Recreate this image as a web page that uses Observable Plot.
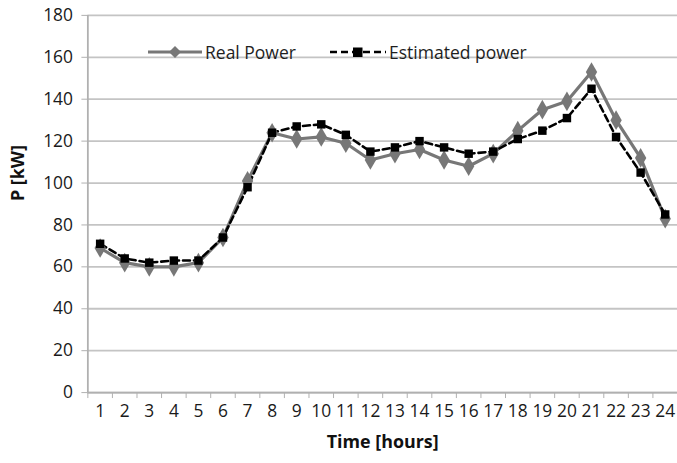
<!DOCTYPE html>
<html><head><meta charset="utf-8">
<script src="https://cdn.jsdelivr.net/npm/d3@7"></script>
<script src="https://cdn.jsdelivr.net/npm/@observablehq/plot@0.6"></script>
<style>
html,body{margin:0;padding:0;background:#fff;overflow:hidden;}
#wrap{position:relative;width:677px;height:463px;overflow:hidden;}
#wrap svg{display:block;}
.leg{position:absolute;top:40px;height:24px;display:flex;align-items:center;font-family:"Open Sans",sans-serif;font-size:17.5px;color:#1e1e1e;white-space:nowrap;}
.leg svg{margin-right:3px;}
</style></head><body><div id="wrap"></div>
<script>
const hours = [1,2,3,4,5,6,7,8,9,10,11,12,13,14,15,16,17,18,19,20,21,22,23,24];
const realPower = [69,62,60,60,62,74,101,124,121,122,119,111,114,116,111,108,114,125,135,139,153,130,112,83];
const estimatedPower = [71,64,62,63,63,74,98,124,127,128,123,115,117,120,117,114,115,121,125,131,145,122,105,85];
const yTicks = [0,20,40,60,80,100,120,140,160,180];
const xBoundaries = [0.5,1.5,2.5,3.5,4.5,5.5,6.5,7.5,8.5,9.5,10.5,11.5,12.5,13.5,14.5,15.5,16.5,17.5,18.5,19.5,20.5,21.5,22.5,23.5];
const seriesNames = ["Real Power","Estimated power"];
const yTitle = "P [kW]";
const xTitle = "Time [hours]";

const real = hours.map((h,i)=>({hour:h, value:realPower[i]}));
const est = hours.map((h,i)=>({hour:h, value:estimatedPower[i]}));

const font = "Open Sans";
const chart = Plot.plot({
  width: 682, height: 463,
  marginLeft: 88, marginRight: 0, marginTop: 15, marginBottom: 68,
  style: {fontFamily: font, fontSize: "17px", color: "#1a1a1a", background: "#fff", overflow: "visible"},
  x: {domain: [0.5, 24.5], axis: null},
  y: {domain: [0, 180], axis: null},
  marks: [
    Plot.gridY(yTicks, {stroke: "#c4c4c4", strokeOpacity: 1, strokeWidth: 1.8}),
    Plot.axisY({ticks: yTicks, tickSize: 6, tickPadding: 9, stroke: "#b0b0b0", fontSize: 17.5, label: null, tickFormat: d => d}),
    Plot.ruleX([0.5], {stroke: "#b0b0b0", strokeWidth: 1.8}),
    Plot.ruleY([0], {stroke: "#b0b0b0", strokeWidth: 1.8}),
    Plot.axisX({ticks: xBoundaries, tickSize: 6, stroke: "#b0b0b0", tickFormat: () => "", label: null}),
    Plot.axisX({ticks: hours, tickSize: 0, tickPadding: 12, fontSize: 17.5, label: null, tickFormat: d => d}),
    Plot.line(real, {x: "hour", y: "value", stroke: "#777", strokeWidth: 3.2}),
    Plot.line(est, {x: "hour", y: "value", stroke: "#000", strokeWidth: 2.6, strokeDasharray: "7,4"}),
    Plot.dot(real, {x: "hour", y: "value", symbol: "diamond", r: 6, fill: "#777", stroke: "none"}),
    Plot.dot(est, {x: "hour", y: "value", symbol: "square", r: 4.8, fill: "#000", stroke: "none"}),
    Plot.text([yTitle], {frameAnchor: "left", dx: -70, dy: -3, rotate: -90, fontWeight: "bold", fontSize: 18, fill: "#111"}),
    Plot.text([xTitle], {frameAnchor: "bottom", dy: 56, fontWeight: "bold", fontSize: 18, fill: "#111"})
  ]
});
const wrap = document.getElementById("wrap");
wrap.appendChild(chart);

function addLegend(left, name, kind) {
  const d = document.createElement("div");
  d.className = "leg";
  d.style.left = left + "px";
  let sample;
  if (kind === "real") {
    sample = `<svg width="54" height="14"><line x1="0" y1="7" x2="54" y2="7" stroke="#777" stroke-width="3.2"/><path d="M27,1L33,7L27,13L21,7Z" fill="#777"/></svg>`;
  } else {
    sample = `<svg width="56" height="14"><line x1="0" y1="7" x2="56" y2="7" stroke="#000" stroke-width="2.6" stroke-dasharray="7,4"/><rect x="23" y="2.5" width="9.5" height="9.5" fill="#000"/></svg>`;
  }
  d.innerHTML = sample + `<span>${name}</span>`;
  wrap.appendChild(d);
}
addLegend(148, seriesNames[0], "real");
addLegend(330, seriesNames[1], "est");
</script>
</body></html>
